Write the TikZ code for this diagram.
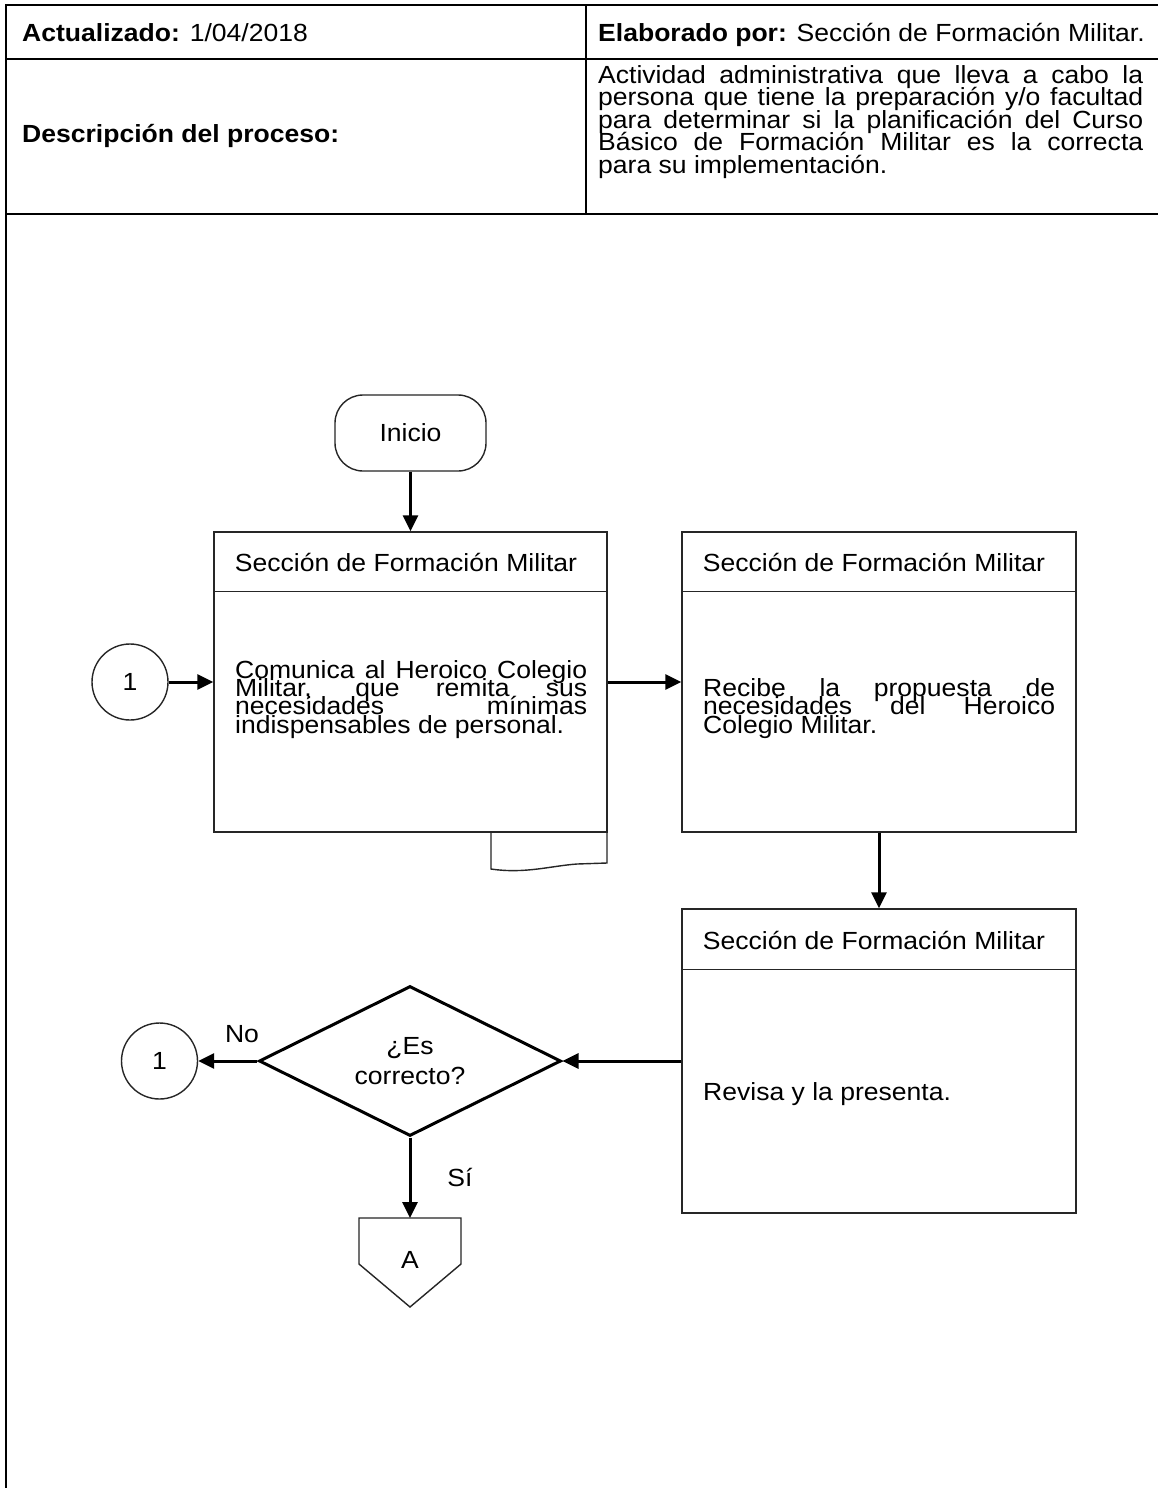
\documentclass[tikz,border=0pt]{standalone}
\usepackage{fontspec}
\setmainfont{Liberation Sans}[FakeStretch=1.07]
\usetikzlibrary{shapes.geometric,arrows.meta}
\newcommand{\fcfont}{\fontsize{24.8}{18.4}\selectfont\lineskiplimit=-100pt\lineskip=0pt}
\newcommand{\hdfont}{\fontsize{24.8}{22.5}\selectfont\lineskiplimit=-100pt\lineskip=0pt}
\newcommand{\dqfont}{\fontsize{24.8}{30}\selectfont\lineskiplimit=-100pt\lineskip=0pt}
\begin{document}
\begin{tikzpicture}[x=1pt,y=-1pt,
  frame/.style={line width=2pt, black},
  thin/.style={draw=black!85, line width=1.4pt},
  box/.style={thin, rectangle, inner sep=0pt},
  conn/.style={thin, circle, minimum size=76pt, inner sep=0pt, font=\fcfont},
  arr/.style={line width=3pt, -{Triangle[length=16pt,width=15pt]}},
  fc/.style={font=\fcfont, inner sep=0pt},
  body/.style={font=\fcfont, inner sep=0pt, text width=352pt, align=justify, anchor=base west},
  hd/.style={font=\hdfont, inner sep=0pt, anchor=base west},
]
\useasboundingbox (0,0) rectangle (1158,1488);
\fill[white] (0,0) rectangle (1158,1488);

% header table
\draw[frame] (1158,5) -- (6,5) -- (6,1488);
\draw[frame] (6,59) -- (1158,59);
\draw[frame] (6,214) -- (1158,214);
\draw[line width=1.5pt] (586,5) -- (586,214);

\node[hd] (upd) at (22,42) {\textbf{Actualizado:} 1/04/2018};
\node[hd] (by) at (598,42) {\textbf{Elaborado por:} Sección de Formación Militar.};
\node[hd] (dl) at (22,142) {\textbf{Descripción del proceso:}};
\node[hd, text width=545pt, align=justify] (dr) at (598,83) {Actividad administrativa que lleva a cabo la\linebreak persona que tiene la preparación y/o facultad\linebreak para determinar si la planificación del Curso\linebreak Básico de Formación Militar es la correcta\linebreak para su implementación.};

% start
\node[box, rounded corners=28pt, minimum width=151pt, minimum height=76pt, font=\fcfont] (ini) at (410.5,433) {Inicio};

% box 1
\node[box, minimum width=393pt, minimum height=300pt] (b1) at (410.5,682) {};
\draw[thin] (b1.north west) ++(0,60) -- ++(393,0);
\node[fc, anchor=base] (b1h) at (406,571) {Sección de Formación Militar};
\node[body] (b1t) at (235,678) {Comunica al Heroico Colegio\linebreak Militar, que remita sus\linebreak necesidades mínimas\linebreak indispensables de personal.};
\draw[thin] (491,832) -- (491,869) .. controls (525,874) and (550,866) .. (577,864) -- (607,863) -- (607,832);

% box 2
\node[box, minimum width=394pt, minimum height=300pt] (b2) at (879,682) {};
\draw[thin] (b2.north west) ++(0,60) -- ++(394,0);
\node[fc, anchor=base] (b2h) at (874,571) {Sección de Formación Militar};
\node[body] (b2t) at (703,696.5) {Recibe la propuesta de\linebreak necesidades del Heroico\linebreak Colegio Militar.};

% box 3
\node[box, minimum width=394pt, minimum height=304pt] (b3) at (879,1061) {};
\draw[thin] (b3.north west) ++(0,61) -- ++(394,0);
\node[fc, anchor=base] (b3h) at (874,949) {Sección de Formación Militar};
\node[fc, anchor=base west] (b3t) at (703,1100) {Revisa y la presenta.};

% connectors
\node[conn] (c1) at (130,682) {1};
\node[conn] (c2) at (159.5,1061) {1};
\node[draw, diamond, line width=3pt, minimum width=302pt, minimum height=150pt, inner sep=0pt, aspect=2, font=\dqfont, align=center] (d) at (410,1061) {¿Es\\correcto?};
\coordinate (Atop) at (410,1218);
\draw[thin] (359,1218) -- (461,1218) -- (461,1264) -- (410,1307) -- (359,1264) -- cycle;
\node[fc, anchor=base] (A) at (410,1268) {A};

\draw[arr] (ini) -- (b1);
\draw[arr] (c1) -- (b1);
\draw[arr] (b1) -- (b2);
\draw[arr] (b2) -- (b3);
\draw[arr] (b3) -- (d);
\draw[arr] (d) -- (c2);
\draw[arr] (d) -- (Atop);
\node[fc, anchor=base] (no) at (242,1042) {No};
\node[fc, anchor=base] (si) at (460,1186) {Sí};
\end{tikzpicture}
\end{document}
